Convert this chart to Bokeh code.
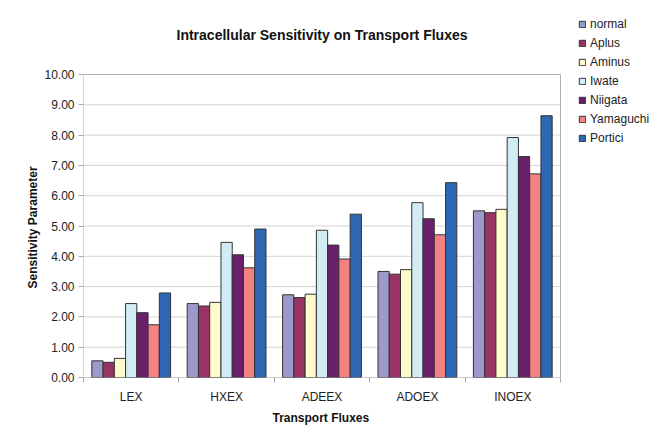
from bokeh.plotting import figure
from bokeh.models import (FixedTicker, Legend, LegendItem, Range1d, NumeralTickFormatter,
                          Label, Title)
from bokeh.embed import file_html
from bokeh.resources import INLINE

categories = ["LEX", "HXEX", "ADEEX", "ADOEX", "INOEX"]
series_names = ["normal", "Aplus", "Aminus", "Iwate", "Niigata", "Yamaguchi", "Portici"]
normal = [0.55, 2.44, 2.73, 3.50, 5.50]
aplus = [0.50, 2.36, 2.64, 3.41, 5.44]
aminus = [0.63, 2.48, 2.75, 3.56, 5.55]
iwate = [2.44, 4.46, 4.86, 5.77, 7.92]
niigata = [2.14, 4.05, 4.37, 5.24, 7.29]
yamaguchi = [1.74, 3.62, 3.91, 4.71, 6.72]
portici = [2.79, 4.90, 5.39, 6.43, 8.64]
y_ticks = [0, 1, 2, 3, 4, 5, 6, 7, 8, 9, 10]

series_values = [normal, aplus, aminus, iwate, niigata, yamaguchi, portici]
colors = ["#9c99cc", "#993366", "#fffacc", "#d2ecf5", "#6a1f6a", "#f48282", "#2e68b4"]

FONT = "Liberation Sans"
W, H = 653, 432
LEFT, RIGHT, TOP, BOTTOM = 83, 0, 8, 55
PLOT_RIGHT_PX, PLOT_TOP_PX = 560, 74
PLOT_BOTTOM_PX = H - BOTTOM
ncat = len(categories)
ymax = y_ticks[-1]
# extend ranges so the frame also holds the title and legend area
x_end = ncat * (W - RIGHT - LEFT) / (PLOT_RIGHT_PX - LEFT)
y_end = ymax * (PLOT_BOTTOM_PX - TOP) / (PLOT_BOTTOM_PX - PLOT_TOP_PX)

p = figure(width=W, height=H, output_backend="svg", toolbar_location=None,
           x_range=Range1d(0, x_end), y_range=Range1d(0, y_end),
           min_border_left=LEFT, min_border_right=RIGHT, min_border_top=TOP,
           min_border_bottom=BOTTOM)

# gridlines and plot-area border limited to the plot area
p.segment(x0=[0] * len(y_ticks), x1=[ncat] * len(y_ticks), y0=y_ticks, y1=y_ticks,
          line_color="#d4d4d4", line_width=1)
p.segment(x0=[0, ncat, 0, 0], y0=[0, 0, ymax, 0], x1=[0, ncat, ncat, ncat],
          y1=[ymax, ymax, ymax, 0], line_color="#b0b0b0", line_width=1)

bw = 0.118
items = []
for j, (name, vals) in enumerate(zip(series_names, series_values)):
    xs = [i + 0.5 + (j - 3) * bw for i in range(ncat)]
    r = p.vbar(x=xs, top=vals, width=bw, bottom=0, fill_color=colors[j],
               line_color="#333333", line_width=1)
    items.append(LegendItem(label=name, renderers=[r]))

legend = Legend(items=items, location=(495, 230), padding=0, spacing=0,
                label_height=19, glyph_height=8, glyph_width=8, label_standoff=4,
                label_text_font=FONT, label_text_font_size="12px",
                label_text_color="#222222", border_line_color=None,
                background_fill_alpha=0, margin=0)
p.add_layout(legend, "center")

title = Label(x=ncat / 2, y=11.29, text="Intracellular Sensitivity on Transport Fluxes",
              text_font=FONT, text_font_size="14px", text_font_style="bold",
              text_color="#111111", text_align="center", text_baseline="middle")
p.add_layout(title)

# x axis: ticks between categories, labels at centers
p.xaxis.ticker = FixedTicker(ticks=[i + 0.5 for i in range(ncat)],
                             minor_ticks=list(range(ncat + 1)))
p.xaxis.major_label_overrides = {i + 0.5: c for i, c in enumerate(categories)}
p.xaxis.major_tick_line_color = None
p.xaxis.minor_tick_line_color = "#aaaaaa"
p.xaxis.minor_tick_out = 5
p.xaxis.minor_tick_in = 0
p.xaxis.axis_line_color = None
p.xaxis.major_label_standoff = 6
p.xaxis.major_label_text_font = FONT
p.xaxis.major_label_text_font_size = "12px"
p.xaxis.major_label_text_color = "#222222"

p.yaxis.ticker = FixedTicker(ticks=y_ticks)
p.yaxis.formatter = NumeralTickFormatter(format="0.00")
p.yaxis.major_tick_out = 5
p.yaxis.major_tick_in = 0
p.yaxis.minor_tick_line_color = None
p.yaxis.major_tick_line_color = "#aaaaaa"
p.yaxis.axis_line_color = None
p.yaxis.major_label_standoff = 4
p.yaxis.major_label_text_font = FONT
p.yaxis.major_label_text_font_size = "12px"
p.yaxis.major_label_text_color = "#222222"

xlabel = Title(text="Transport Fluxes", align="left", offset=189, standoff=4,
               text_font=FONT, text_font_size="12px", text_font_style="bold",
               text_color="#111111")
p.add_layout(xlabel, "below")
ylabel = Title(text="Sensitivity Parameter", align="left", offset=89, standoff=4,
               text_font=FONT, text_font_size="12px", text_font_style="bold",
               text_color="#111111")
p.add_layout(ylabel, "left")

p.grid.grid_line_color = None
p.outline_line_color = None
p.background_fill_color = "white"
p.border_fill_color = "white"

open("out.html", "w").write(file_html(p, INLINE))
